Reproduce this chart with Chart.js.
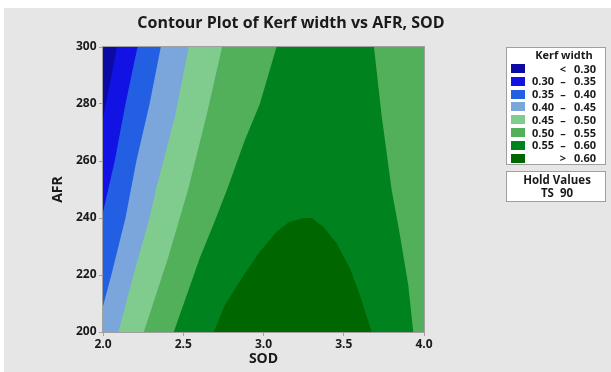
<!DOCTYPE html>
<html>
<head>
<meta charset="utf-8">
<title>Contour Plot of Kerf width vs AFR, SOD</title>
<script src="https://cdn.jsdelivr.net/npm/chart.js@4"></script>
<style>
  html, body { margin: 0; padding: 0; background: #ffffff; }
  canvas { display: block; }
</style>
</head>
<body>
<canvas id="chart" width="611" height="372"></canvas>
<script>
// Axis ticks
const sodTicks = [2.0, 2.5, 3.0, 3.5, 4.0];
const afrTicks = [200, 220, 240, 260, 280, 300];

// Kerf width contour levels and the fill colour of each band (low to high)
const levels = [0.30, 0.35, 0.40, 0.45, 0.50, 0.55, 0.60];
const bandColors = ['#0b0ba3', '#1212e4', '#235fe2', '#7ba6dc', '#80cc8f', '#52b05b', '#00821f', '#006600'];

// Factor held constant
const holdNames = ['TS'];
const holdValues = [90];

const line030 = [[2.087, 300], [2.0, 275]];
const line035 = [[2.215, 300], [2.14, 280], [2.073, 260], [2.0, 242]];
const line040 = [[2.36, 300], [2.29, 280], [2.208, 260], [2.14, 240], [2.052, 220], [2.0, 209]];
const line045 = [[2.534, 300], [2.45, 276], [2.33, 250], [2.29, 240], [2.19, 220], [2.096, 200]];
const line050 = [[2.742, 300], [2.645, 276], [2.53, 250], [2.405, 226], [2.254, 200]];
const line055L = [[3.081, 300], [2.977, 280], [2.884, 267.4], [2.773, 250], [2.69, 238], [2.603, 226], [2.441, 200]];
const line055R = [[3.688, 300], [3.736, 276], [3.798, 250], [3.85, 234], [3.902, 216.5], [3.933, 200]];
const line060 = [[2.69, 200], [2.759, 209.5], [2.863, 218.8], [2.977, 228.2], [3.081, 235.2], [3.16, 238.6],
                 [3.25, 240], [3.3, 240], [3.372, 237], [3.455, 231.1], [3.539, 222.3], [3.6, 213], [3.674, 200]];

const SOD_MIN = sodTicks[0], SOD_MAX = sodTicks[sodTicks.length - 1];
const AFR_MIN = afrTicks[0], AFR_MAX = afrTicks[afrTicks.length - 1];

const FONT = '"Open Sans", "DejaVu Sans", sans-serif';
const TEXT = '#1a1a1a';
const FRAME = '#a0a0a0';

const toPoint = ([x, y]) => ({ x, y });

// Region lying to the left of a contour line, closed along the left (and bottom) edge
function leftOf(line) {
  const pts = [[SOD_MIN, AFR_MAX], ...line];
  const last = line[line.length - 1];
  if (last[1] === AFR_MIN && last[0] > SOD_MIN) pts.push([SOD_MIN, AFR_MIN]);
  return pts.map(toPoint);
}

function region(points, color) {
  return {
    data: points,
    showLine: true,
    fill: 'shape',
    backgroundColor: color,
    borderColor: 'rgba(0,0,0,0)',
    borderWidth: 0,
    pointRadius: 0,
    tension: 0
  };
}

const fullPlot = [[SOD_MIN, AFR_MAX], [SOD_MAX, AFR_MAX], [SOD_MAX, AFR_MIN], [SOD_MIN, AFR_MIN]].map(toPoint);
const band055 = [...line055L, ...line055R.slice().reverse()].map(toPoint);

// First dataset is painted on top
const datasets = [
  region(leftOf(line030), bandColors[0]),
  region(leftOf(line035), bandColors[1]),
  region(leftOf(line040), bandColors[2]),
  region(leftOf(line045), bandColors[3]),
  region(leftOf(line050), bandColors[4]),
  region(line060.map(toPoint), bandColors[7]),
  region(band055, bandColors[6]),
  region(fullPlot, bandColors[5])
];

// Legend entries built from the levels
const fmt = v => v.toFixed(2);
const legendRows = bandColors.map((c, i) => {
  if (i === 0) return { color: c, lo: '', sep: '<', hi: fmt(levels[0]) };
  if (i === levels.length) return { color: c, lo: '', sep: '>', hi: fmt(levels[levels.length - 1]) };
  return { color: c, lo: fmt(levels[i - 1]), sep: '\u2013', hi: fmt(levels[i]) };
});

const backdrop = {
  id: 'backdrop',
  beforeDraw(chart) {
    const { ctx, width, height } = chart;
    ctx.save();
    ctx.fillStyle = '#ffffff';
    ctx.fillRect(0, 0, width, height);
    ctx.fillStyle = '#e6e6e6';
    ctx.fillRect(4, 8, width - 4, height - 8);
    ctx.restore();
  }
};

const frame = {
  id: 'frame',
  afterDatasetsDraw(chart) {
    const { ctx, chartArea: a } = chart;
    ctx.save();
    ctx.strokeStyle = FRAME;
    ctx.lineWidth = 1;
    ctx.strokeRect(Math.round(a.left) - 0.5, Math.round(a.top) - 0.5,
                   Math.round(a.right - a.left) + 1, Math.round(a.bottom - a.top) + 1);
    ctx.restore();
  }
};

const annotations = {
  id: 'annotations',
  afterDraw(chart) {
    const { ctx } = chart;
    ctx.save();
    ctx.fillStyle = TEXT;

    // chart title
    ctx.font = `bold 16px ${FONT}`;
    ctx.textAlign = 'center';
    ctx.textBaseline = 'alphabetic';
    ctx.fillText('Contour Plot of Kerf width vs AFR, SOD', 291, 28);

    // legend box
    const bx = 506, by = 47, bw = 100, bh = 118;
    ctx.fillStyle = '#ffffff';
    ctx.fillRect(bx, by, bw, bh);
    ctx.strokeStyle = FRAME;
    ctx.lineWidth = 1;
    ctx.strokeRect(bx + 0.5, by + 0.5, bw - 1, bh - 1);

    ctx.fillStyle = TEXT;
    ctx.font = `bold 11px ${FONT}`;
    ctx.textAlign = 'center';
    ctx.fillText('Kerf width', 564, 59);

    legendRows.forEach((r, i) => {
      const cy = 68.5 + i * 12.8;
      ctx.fillStyle = r.color;
      ctx.fillRect(511, Math.round(cy - 4.5), 14, 9);
      ctx.fillStyle = TEXT;
      const base = cy + 4;
      ctx.textAlign = 'left';
      if (r.lo) ctx.fillText(r.lo, 532, base);
      ctx.textAlign = 'center';
      ctx.fillText(r.sep, 563, base);
      ctx.textAlign = 'right';
      ctx.fillText(r.hi, 596, base);
    });

    // hold values box
    const hy = 171, hh = 31;
    ctx.fillStyle = '#ffffff';
    ctx.fillRect(bx, hy, bw, hh);
    ctx.strokeRect(bx + 0.5, hy + 0.5, bw - 1, hh - 1);
    ctx.fillStyle = TEXT;
    ctx.textAlign = 'center';
    ctx.font = `bold 11.5px ${FONT}`;
    ctx.fillText('Hold Values', 557, 184);
    holdNames.forEach((n, i) => {
      ctx.fillText(`${n}  ${holdValues[i]}`, 557, 197 + i * 12);
    });

    ctx.restore();
  }
};

const tickFont = { family: FONT, size: 12, weight: 'bold' };
const titleFont = { family: FONT, size: 14, weight: 'bold' };

new Chart(document.getElementById('chart'), {
  type: 'scatter',
  data: { datasets },
  options: {
    responsive: false,
    animation: false,
    events: [],
    layout: { padding: { top: 47, right: 187, bottom: 0, left: 0 } },
    plugins: {
      legend: { display: false },
      tooltip: { enabled: false },
      title: { display: false }
    },
    scales: {
      x: {
        type: 'linear',
        min: SOD_MIN,
        max: SOD_MAX,
        afterFit(s) { s.height = 40; },
        afterBuildTicks(s) { s.ticks = sodTicks.map(v => ({ value: v })); },
        ticks: { callback: v => Number(v).toFixed(1), font: tickFont, color: TEXT, padding: 1, maxRotation: 0, autoSkip: false },
        grid: { drawOnChartArea: false, drawTicks: true, tickLength: 4, color: FRAME },
        border: { display: true, color: FRAME },
        title: { display: true, text: 'SOD', font: titleFont, color: TEXT, padding: { top: 0, bottom: 4.6 } }
      },
      y: {
        type: 'linear',
        min: AFR_MIN,
        max: AFR_MAX,
        afterFit(s) { s.width = 103; },
        afterBuildTicks(s) { s.ticks = afrTicks.map(v => ({ value: v })); },
        ticks: { callback: v => String(v), font: tickFont, color: TEXT, padding: 2.5, autoSkip: false },
        grid: { drawOnChartArea: false, drawTicks: true, tickLength: 4, color: FRAME },
        border: { display: true, color: FRAME },
        title: { display: true, text: 'AFR', font: titleFont, color: TEXT, padding: { top: 50, bottom: 0 } }
      }
    }
  },
  plugins: [backdrop, frame, annotations]
});
</script>
</body>
</html>
